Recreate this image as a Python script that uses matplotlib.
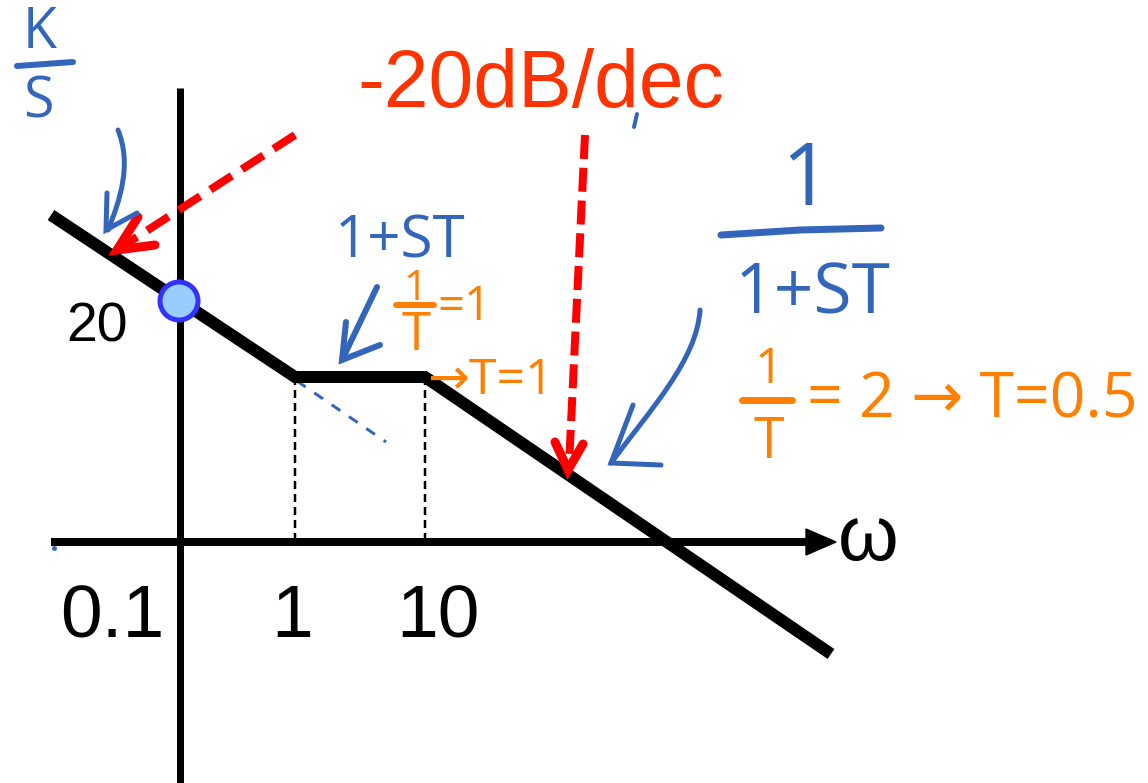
import matplotlib
matplotlib.use("Agg")
import matplotlib.pyplot as plt
from matplotlib.path import Path
from matplotlib.patches import PathPatch, Circle, Polygon

# asymptotic magnitude sketch, drawing units (x to the right, y downward)
mag_x = [51, 295, 425, 831]
mag_y = [215, 377, 377, 654]
corner_x = [295, 425]
axis_y = 542
axis_x = 180

# frequency tick labels along the w axis
tick_labels = ["0.1", "1", "10"]
tick_x = [112, 292, 438]

# 20 dB point on the vertical axis
gain_label = "20"
gain_point = (179, 301)

# low-frequency trend continued below the first corner
trend_x = [297, 386]
trend_y = [381, 442]

BLUE = "#3366bb"
ORANGE = "#ff8000"
RED = "#ff0000"
HAND = ["Open Sans", "DejaVu Sans"]


def px(w):
    # pixel width -> points at 100 dpi
    return w * 0.72


def curve(ax, pts, color, lw):
    codes = [Path.MOVETO] + [Path.CURVE4] * (len(pts) - 1)
    ax.add_patch(PathPatch(Path(pts, codes), fill=False, edgecolor=color,
                           lw=px(lw), capstyle="round", joinstyle="round"))


def chevron(ax, tip, a, b, color, lw):
    ax.plot([a[0], tip[0], b[0]], [a[1], tip[1], b[1]], color=color,
            lw=px(lw), solid_capstyle="round", solid_joinstyle="miter")


fig = plt.figure(figsize=(11.48, 7.83), dpi=100)
ax = fig.add_axes([0, 0, 1, 1])
ax.set_xlim(0, 1148)
ax.set_ylim(783, 0)
ax.axis("off")

# axes
ax.plot([axis_x, axis_x], [88, 783], color="k", lw=px(7), solid_capstyle="butt")
ax.plot([51, 812], [axis_y, axis_y], color="k", lw=px(8), solid_capstyle="butt")
ax.add_patch(Polygon([(806, axis_y - 13), (836, axis_y), (806, axis_y + 13)],
                     closed=True, color="k"))
ax.text(868, 560, "ω", fontsize=56, family="Liberation Sans", ha="center", va="baseline")
ax.plot([54], [548], "o", color=BLUE, ms=2.5)

# corner guides
for cx in corner_x:
    ax.plot([cx, cx], [mag_y[1], axis_y], color="k", lw=px(2.5),
            linestyle=(0, (3.2, 2.0)))

ax.plot(trend_x, trend_y, color=BLUE, lw=px(3), linestyle=(0, (3.5, 3.5)))

# magnitude asymptotes
ax.plot(mag_x, mag_y, color="k", lw=px(12), solid_capstyle="butt",
        solid_joinstyle="miter")

ax.add_patch(Circle(gain_point, 19, facecolor="#99ccff", edgecolor="#3333ff",
                    lw=px(5), zorder=5))

# labels
for lab, x in zip(tick_labels, tick_x):
    ax.text(x, 637, lab, fontsize=54, family="Liberation Sans", ha="center",
            va="baseline")
ax.text(97, 342, gain_label, fontsize=40, family="Liberation Sans", ha="center",
        va="baseline")
ax.text(541, 107, "-20dB/dec", fontsize=58, family="Liberation Sans",
        color="#ff3300", ha="center", va="baseline")

# red dashed pointers
ax.plot([295, 120], [135, 248], color=RED, lw=px(8), linestyle=(0, (3.2, 1.5)),
        solid_capstyle="butt")
chevron(ax, (117, 250), (138, 217), (155, 245), RED, 9)
ax.plot([585, 569], [135, 465], color=RED, lw=px(8), linestyle=(0, (3.0, 1.1)))
chevron(ax, (568, 470), (555, 442), (583, 444), RED, 9)

# blue handwriting: K/S
ax.text(40, 48, "K", fontsize=40, family=HAND, color=BLUE, ha="center", va="baseline")
ax.plot([17, 73], [66, 62], color=BLUE, lw=px(6), solid_capstyle="round")
ax.text(38, 118, "S", fontsize=40, family=HAND, color=BLUE, ha="center", va="baseline")
curve(ax, [(118, 130), (132, 165), (120, 200), (108, 230)], BLUE, 5)
chevron(ax, (106, 230), (107, 193), (137, 213), BLUE, 5)

# blue handwriting: 1+ST (zero)
ax.text(400, 258, "1+ST", fontsize=42, family=HAND, color=BLUE, ha="center",
        va="baseline")
ax.plot([377, 342], [287, 360], color=BLUE, lw=px(6), solid_capstyle="round")
chevron(ax, (342, 360), (346, 322), (380, 345), BLUE, 6)

# blue handwriting: 1/(1+ST) (pole)
ax.text(806, 205, "1", fontsize=62, family=HAND, color=BLUE, ha="center",
        va="baseline")
ax.plot([721, 800, 881], [235, 230, 228], color=BLUE, lw=px(7), solid_capstyle="round")
ax.text(813, 313, "1+ST", fontsize=50, family=HAND, color=BLUE, ha="center",
        va="baseline")
curve(ax, [(700, 310), (697, 360), (650, 410), (611, 463)], BLUE, 5)
chevron(ax, (611, 463), (633, 405), (661, 465), BLUE, 5)
ax.plot([637, 634], [114, 127], color=BLUE, lw=px(4), solid_capstyle="round")

# orange notes
ax.text(415, 300, "1", fontsize=30, family=HAND, color=ORANGE, ha="center", va="baseline")
ax.plot([396, 434], [305, 305], color=ORANGE, lw=px(6), solid_capstyle="round")
ax.text(416, 350, "T", fontsize=38, family=HAND, color=ORANGE, ha="center", va="baseline")
ax.text(464, 320, "=1", fontsize=34, family=HAND, color=ORANGE, ha="center", va="baseline")
ax.text(490, 394, "→T=1", fontsize=36, family=HAND, color=ORANGE, ha="center",
        va="baseline")

ax.text(769, 383, "1", fontsize=36, family=HAND, color=ORANGE, ha="center", va="baseline")
ax.plot([742, 792], [400, 400], color=ORANGE, lw=px(7), solid_capstyle="round")
ax.text(769, 458, "T", fontsize=40, family=HAND, color=ORANGE, ha="center", va="baseline")
ax.text(972, 417, "= 2 → T=0.5", fontsize=45, family=HAND, color=ORANGE, ha="center",
        va="baseline")

fig.savefig("out.png", dpi=100)
